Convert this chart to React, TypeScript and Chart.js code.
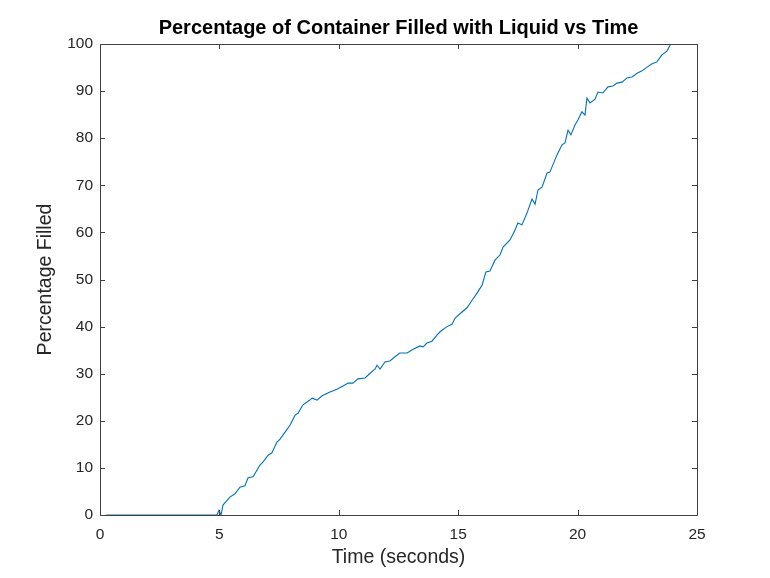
import React, { useEffect, useRef } from "react";
import { Chart, registerables } from "chart.js";

Chart.register(...registerables);

const timeSeconds: number[] = [
  0.25, 4.9, 4.98, 5.07, 5.15, 5.44, 5.65, 5.86, 6.07, 6.2, 6.41, 6.7, 6.83, 7.04, 7.2, 7.41,
  7.54, 7.75, 7.96, 8.17, 8.29, 8.5, 8.67, 8.79, 8.88, 9.09, 9.3, 9.63, 9.92, 10.18, 10.39,
  10.59, 10.8, 11.1, 11.31, 11.52, 11.6, 11.73, 11.93, 12.14, 12.35, 12.56, 12.86, 13.11,
  13.4, 13.53, 13.69, 13.9, 14.11, 14.24, 14.53, 14.74, 14.87, 15.16, 15.37, 15.58, 15.79,
  16.0, 16.16, 16.33, 16.54, 16.75, 16.88, 17.17, 17.38, 17.5, 17.67, 17.88, 18.09, 18.22,
  18.34, 18.51, 18.72, 18.84, 19.05, 19.18, 19.35, 19.47, 19.6, 19.72, 19.89, 20.02, 20.18,
  20.31, 20.39, 20.52, 20.73, 20.85, 21.06, 21.27, 21.48, 21.65, 21.86, 22.07, 22.28, 22.49,
  22.7, 22.91, 23.12, 23.32, 23.53, 23.74, 23.9,
];

const percentFilled: number[] = [
  0, 0, 1, 0, 2.1, 3.8, 4.5, 5.9, 6.2, 7.9, 8.1, 10.6, 11.3, 12.7, 13.2, 15.5,
  16.1, 17.6, 19.1, 21.2, 21.6, 23.4, 24, 24.4, 24.8, 24.4, 25.3, 26.1, 26.7, 27.4, 28,
  28, 28.9, 29.1, 30.1, 31, 31.8, 31, 32.5, 32.7, 33.6, 34.4, 34.4, 35.2,
  35.9, 35.7, 36.5, 36.9, 38.2, 38.9, 40, 40.5, 41.8, 43.1, 44, 45.6, 47.1,
  48.8, 51.6, 51.8, 54.1, 55.2, 56.9, 58.4, 60.5, 62, 61.6, 64.1, 67.1, 66,
  69, 69.6, 72.6, 72.8, 75.4, 76.9, 78.6, 79, 81.7, 80.7, 82.8, 83.9, 85.6,
  84.9, 88.5, 87.5, 88.3, 89.8, 89.6, 90.9, 91.1, 91.7, 91.9, 92.8, 93, 93.8,
  94.3, 95.1, 95.8, 96.2, 97.7, 98.5, 100,
];

const xTicks: number[] = [0, 5, 10, 15, 20, 25];
const yTicks: number[] = [0, 10, 20, 30, 40, 50, 60, 70, 80, 90, 100];

const AXIS_COLOR = "#404040";
const TEXT_COLOR = "#262626";
const FONT = "Arial, 'Liberation Sans', Helvetica, sans-serif";

const boxTicksPlugin = {
  id: "boxTicks",
  afterDraw(chart: any) {
    const { ctx, chartArea } = chart;
    const xs = chart.scales.x;
    const ys = chart.scales.y;
    const { left, right, top, bottom } = chartArea;
    const len = 5;
    ctx.save();
    ctx.strokeStyle = AXIS_COLOR;
    ctx.lineWidth = 1;
    ctx.beginPath();
    ctx.rect(Math.round(left) + 0.5, Math.round(top) + 0.5, Math.round(right - left), Math.round(bottom - top));
    for (const t of xTicks) {
      const px = Math.round(xs.getPixelForValue(t)) + 0.5;
      ctx.moveTo(px, bottom);
      ctx.lineTo(px, bottom - len);
      ctx.moveTo(px, top);
      ctx.lineTo(px, top + len);
    }
    for (const t of yTicks) {
      const py = Math.round(ys.getPixelForValue(t)) + 0.5;
      ctx.moveTo(left, py);
      ctx.lineTo(left + len, py);
      ctx.moveTo(right, py);
      ctx.lineTo(right - len, py);
    }
    ctx.stroke();
    ctx.restore();
  },
};

export default function App() {
  const canvasRef = useRef<HTMLCanvasElement | null>(null);

  useEffect(() => {
    document.body.style.margin = "0";
    const canvas = canvasRef.current;
    if (!canvas) return;
    const points = timeSeconds.map((t, i) => ({ x: t, y: percentFilled[i] }));
    const chart = new Chart(canvas, {
      type: "line",
      data: {
        datasets: [
          {
            data: points,
            borderColor: "#0072BD",
            borderWidth: 1.1,
            pointRadius: 0,
            tension: 0,
            fill: false,
          },
        ],
      },
      options: {
        animation: false,
        responsive: false,
        maintainAspectRatio: false,
        layout: { padding: { left: 0, right: 73, top: 0, bottom: 0 } },
        plugins: {
          legend: { display: false },
          tooltip: { enabled: false },
          title: {
            display: true,
            text: "Percentage of Container Filled with Liquid vs Time",
            color: "#000000",
            fullSize: false,
            font: { family: FONT, size: 20, weight: "bold" },
            padding: { top: 16, bottom: 4 },
          },
        },
        scales: {
          x: {
            type: "linear",
            min: 0,
            max: 25,
            grid: { display: false, drawTicks: false },
            border: { display: false },
            afterBuildTicks: (scale: any) => {
              scale.ticks = xTicks.map((v) => ({ value: v }));
            },
            afterFit: (scale: any) => {
              scale.height = 63;
            },
            ticks: {
              color: TEXT_COLOR,
              font: { family: FONT, size: 15.5 },
              padding: 10,
              maxRotation: 0,
            },
            title: {
              display: true,
              text: "Time (seconds)",
              color: TEXT_COLOR,
              font: { family: FONT, size: 19.5 },
              padding: { top: 0, bottom: 9 },
            },
          },
          y: {
            type: "linear",
            min: 0,
            max: 100,
            grid: { display: false, drawTicks: false },
            border: { display: false },
            afterBuildTicks: (scale: any) => {
              scale.ticks = yTicks.map((v) => ({ value: v }));
            },
            afterFit: (scale: any) => {
              scale.width = 100;
            },
            ticks: {
              color: TEXT_COLOR,
              font: { family: FONT, size: 15.5 },
              padding: 7,
            },
            title: {
              display: true,
              text: "Percentage Filled",
              color: TEXT_COLOR,
              font: { family: FONT, size: 19.5 },
              padding: { top: 34, bottom: 0 },
            },
          },
        },
      },
      plugins: [boxTicksPlugin],
    });
    return () => chart.destroy();
  }, []);

  return (
    <div style={{ position: "relative", width: 770, height: 578 }}>
      <canvas ref={canvasRef} width={770} height={578} style={{ display: "block", width: 770, height: 578 }} />
    </div>
  );
}
